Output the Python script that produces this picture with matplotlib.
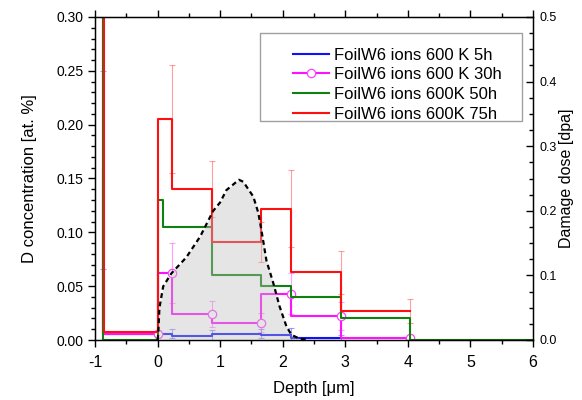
import matplotlib
matplotlib.use("Agg")
import matplotlib.pyplot as plt
from matplotlib.ticker import MultipleLocator, FormatStrFormatter
from matplotlib.patches import Rectangle

plt.rcParams['font.family'] = ['Liberation Sans', 'DejaVu Sans']
plt.rcParams['axes.unicode_minus'] = False

# depth positions of the profile steps [um]
x_5h = [-0.87, 0.0, 0.225, 0.875, 1.66, 2.13, 2.93]
y_5h = [0.158, 0.0057, 0.006, 0.004, 0.006, 0.0043, 0.002]
e_5h = [0.092, 0.003, 0.004, 0.005, 0.004, 0.007, 0.003]

x_30h = [-0.87, 0.0, 0.225, 0.875, 1.66, 2.13, 2.93, 4.03]
y_30h = [0.5, 0.006, 0.062, 0.024, 0.016, 0.043, 0.022, 0.002]
e_30h = [0.0, 0.003, 0.028, 0.012, 0.009, 0.019, 0.013, 0.002]

x_50h = [-0.87, 0.0, 0.08, 0.875, 1.66, 2.13, 2.93, 4.03, 6.0]
y_50h = [1.0, 0.0, 0.13, 0.105, 0.06, 0.05, 0.04, 0.02, 0.0]

x_75h = [-0.85, 0.0, 0.225, 0.875, 1.66, 2.13, 2.93, 4.03]
y_75h = [1.0, 0.007, 0.205, 0.14, 0.091, 0.122, 0.063, 0.027]
e_75h = [0.0, 0.0, 0.05, 0.026, 0.019, 0.036, 0.02, 0.011]

# SRIM damage profile [dpa]
dmg_x = [0.0, 0.01, 0.03, 0.09, 0.22, 0.46, 0.68, 0.89, 1.0, 1.1, 1.3, 1.37,
         1.53, 1.61, 1.66, 1.74, 1.85, 1.95, 2.06, 2.14, 2.27, 2.42]
dmg_y = [0.0, 0.008, 0.05, 0.083, 0.103, 0.128, 0.16, 0.2, 0.213, 0.232, 0.248, 0.245,
         0.222, 0.197, 0.17, 0.123, 0.088, 0.052, 0.021, 0.008, 0.002, 0.0]

labels = ["FoilW6 ions 600 K 5h", "FoilW6 ions 600 K 30h",
          "FoilW6 ions 600K 50h", "FoilW6 ions 600K 75h"]

fig = plt.figure(figsize=(5.82, 4.0), dpi=100)
ax = fig.add_axes([0.1632, 0.15, 0.7526, 0.8075])

lw = 1.5
ax.errorbar(x_5h, y_5h, yerr=e_5h, fmt='none', ecolor='#4040ff', alpha=0.5,
            elinewidth=0.8, capsize=2.5, capthick=0.8)
ax.errorbar(x_30h, y_30h, yerr=e_30h, fmt='none', ecolor='#ff40ff', alpha=0.5,
            elinewidth=0.8, capsize=2.5, capthick=0.8)
ax.errorbar(x_75h, y_75h, yerr=e_75h, fmt='none', ecolor='#ff4040', alpha=0.5,
            elinewidth=0.8, capsize=2.5, capthick=0.8)

l1, = ax.plot(x_5h, y_5h, drawstyle='steps-pre', color='#1010ff', lw=lw)
l2, = ax.plot(x_30h, y_30h, drawstyle='steps-pre', color='#ff10ff', lw=lw,
              marker='o', ms=6, mfc='white', mec='#ff40ff', mew=0.9)
l3, = ax.plot(x_50h, y_50h, drawstyle='steps-pre', color='#108010', lw=lw)
l4, = ax.plot(x_75h, y_75h, drawstyle='steps-pre', color='#ff1010', lw=lw)

ax.set_xlim(-1, 6)
ax.set_ylim(0, 0.30)
ax.xaxis.set_major_locator(MultipleLocator(1))
ax.xaxis.set_minor_locator(MultipleLocator(0.5))
ax.yaxis.set_major_locator(MultipleLocator(0.05))
ax.yaxis.set_minor_locator(MultipleLocator(0.01))
ax.yaxis.set_major_formatter(FormatStrFormatter('%.2f'))
ax.tick_params(which='both', direction='out', top=True, right=False, width=1.0)
ax.tick_params(which='major', length=5)
ax.tick_params(which='minor', length=3)
ax.tick_params(axis='x', labelsize=11.5, pad=6)
ax.tick_params(axis='y', labelsize=10)
for s in ax.spines.values():
    s.set_linewidth(1.0)
ax.set_xlabel("Depth [\u03bcm]", fontsize=12, labelpad=8)
ax.set_ylabel("D concentration [at. %]", fontsize=12, labelpad=14)

ax2 = ax.twinx()
ax2.fill_between(dmg_x, dmg_y, 0, color='0.75', alpha=0.4, lw=0)
ax2.plot(dmg_x, dmg_y, color='black', lw=1.6, ls=(0, (2.2, 1.6)))
ax2.set_ylim(0, 0.5)
ax2.yaxis.set_major_locator(MultipleLocator(0.1))
ax2.yaxis.set_minor_locator(MultipleLocator(0.025))
ax2.yaxis.set_major_formatter(FormatStrFormatter('%.1f'))
ax2.tick_params(which='both', direction='in', labelsize=9, width=1.0, pad=5)
ax2.tick_params(which='major', length=5)
ax2.tick_params(which='minor', length=3)
ax2.set_ylabel("Damage dose [dpa]", fontsize=11.5, labelpad=1)

ax.set_zorder(ax2.get_zorder() - 1)
ax.patch.set_visible(True)
ax2.patch.set_visible(False)

# legend with a wide frame like the original
ax2.add_patch(Rectangle((0.377, 0.678), 0.598, 0.272, transform=ax2.transAxes,
                        fill=True, facecolor='white', edgecolor='#a0a0a0', lw=1.0, zorder=4))
leg = ax2.legend([l1, l2, l3, l4], labels, loc='upper right', bbox_to_anchor=(0.945, 0.926),
                 frameon=False, fontsize=12, handlelength=2.2, handletextpad=0.3,
                 labelspacing=0.28, borderaxespad=0)
leg.set_zorder(5)

fig.savefig("out.png", dpi=100)
